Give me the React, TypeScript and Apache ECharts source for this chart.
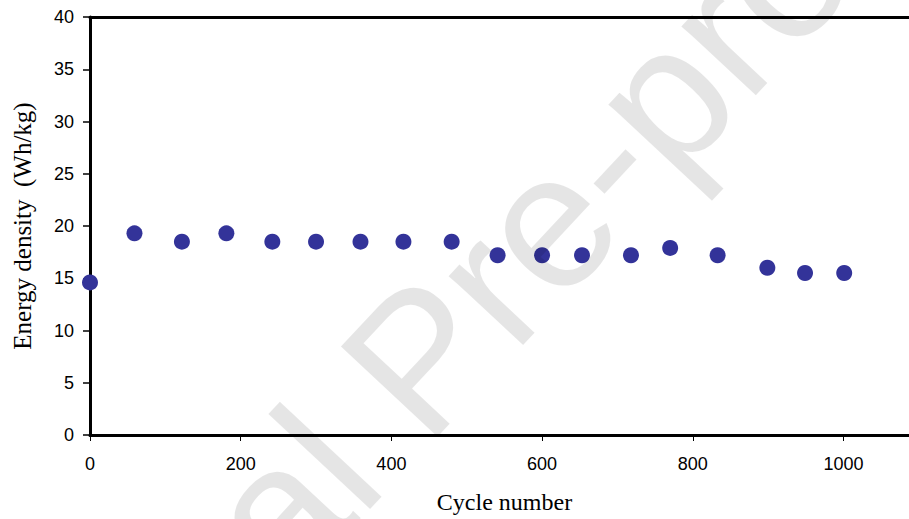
import React, { useEffect, useRef } from "react";
import * as echarts from "echarts";

const cycles = [0, 59, 122, 181, 242, 300, 359, 416, 480, 541, 600, 653, 718, 770, 833, 899, 949, 1001];
const energy = [14.6, 19.3, 18.5, 19.3, 18.5, 18.5, 18.5, 18.5, 18.5, 17.2, 17.2, 17.2, 17.2, 17.9, 17.2, 16.0, 15.5, 15.5];
const xTicks = [0, 200, 400, 600, 800, 1000];
const xTitle = "Cycle number";
const yTitle = "Energy density  (Wh/kg)";
const watermark = "Journal Pre-proof";

const SANS = '"Liberation Sans", Arial, sans-serif';
const SERIF = '"Liberation Serif", "Times New Roman", serif';

export default function App() {
  const ref = useRef<HTMLDivElement>(null);
  useEffect(() => {
    if (!ref.current) return;
    const chart = echarts.init(ref.current, undefined, { renderer: "svg" });
    const points = cycles.map((c, i) => [c, energy[i]]);
    const xMax = 1087;
    chart.setOption({
      animation: false,
      backgroundColor: "#ffffff",
      grid: { left: 90, right: 0, top: 17, bottom: 83, containLabel: false },
      xAxis: [
        {
          type: "value",
          min: 0,
          max: xMax,
          interval: 200,
          name: xTitle,
          nameLocation: "middle",
          nameGap: 55,
          nameTextStyle: { fontFamily: SERIF, fontSize: 24, color: "#000", padding: [0, 0, 0, 10] },
          axisLine: { show: true, lineStyle: { color: "#000", width: 3 } },
          axisTick: { show: true, inside: false, length: 6, lineStyle: { color: "#000", width: 1 } },
          axisLabel: {
            show: true,
            margin: 20,
            fontFamily: SANS,
            fontSize: 18,
            color: "#000",
            showMaxLabel: false,
            formatter: (v: number) => (xTicks.includes(v) ? String(v) : ""),
          },
          splitLine: { show: false },
        },
        {
          type: "value",
          position: "top",
          min: 0,
          max: xMax,
          interval: 200,
          axisLine: { show: true, lineStyle: { color: "#000", width: 3 } },
          axisTick: { show: false },
          axisLabel: { show: false },
          splitLine: { show: false },
        },
      ],
      yAxis: {
        type: "value",
        min: 0,
        max: 40,
        interval: 5,
        name: yTitle,
        nameLocation: "middle",
        nameGap: 55,
        nameRotate: 90,
        nameTextStyle: { fontFamily: SERIF, fontSize: 25, color: "#000" },
        axisLine: { show: true, lineStyle: { color: "#000", width: 3 } },
        axisTick: { show: true, inside: false, length: 7, lineStyle: { color: "#000", width: 1.5 } },
        axisLabel: { show: true, margin: 16, fontFamily: SANS, fontSize: 18, color: "#000" },
        splitLine: { show: false },
      },
      series: [
        {
          type: "scatter",
          xAxisIndex: 0,
          data: points,
          symbol: "circle",
          symbolSize: 16,
          itemStyle: { color: "#333399", opacity: 1 },
          z: 5,
        },
      ],
      graphic: [
        {
          type: "text",
          x: 418,
          y: 360,
          rotation: (47 * Math.PI) / 180,
          z: 100,
          silent: true,
          style: {
            text: watermark,
            font: `192px ${SANS}`,
            fill: "rgba(0,0,0,0.1)",
            align: "center",
            verticalAlign: "middle",
            textAlign: "center",
            textVerticalAlign: "middle",
          },
        },
      ],
    });
    return () => chart.dispose();
  }, []);
  return (
    <div
      ref={ref}
      style={{ position: "absolute", left: 0, top: 0, width: 909, height: 519 }}
    />
  );
}
